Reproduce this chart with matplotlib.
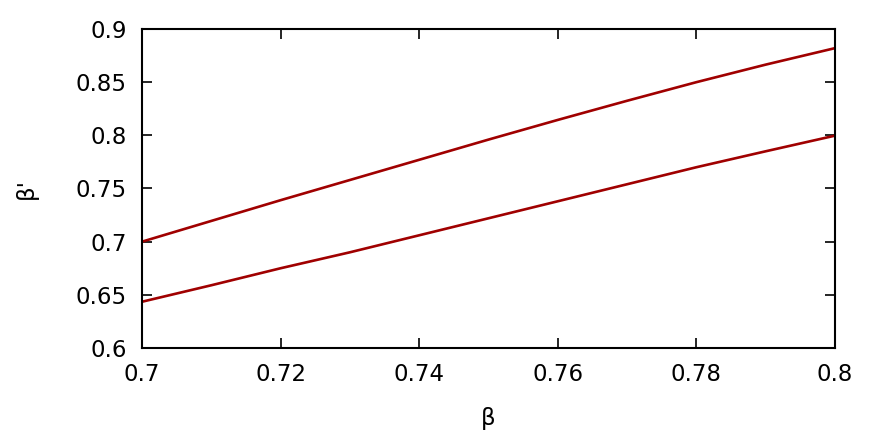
import matplotlib
matplotlib.use("Agg")
import matplotlib.pyplot as plt

beta = [0.70, 0.71, 0.72, 0.73, 0.74, 0.75, 0.76, 0.77, 0.78, 0.79, 0.80]
upper = [0.700, 0.7195, 0.739, 0.758, 0.777, 0.796, 0.8145, 0.8325, 0.850, 0.8665, 0.882]
lower = [0.6435, 0.659, 0.675, 0.690, 0.706, 0.722, 0.738, 0.754, 0.770, 0.785, 0.7997]

xticks = [0.7, 0.72, 0.74, 0.76, 0.78, 0.8]
xticklabels = ["0.7", "0.72", "0.74", "0.76", "0.78", "0.8"]
yticks = [0.6, 0.65, 0.7, 0.75, 0.8, 0.85, 0.9]
yticklabels = ["0.6", "0.65", "0.7", "0.75", "0.8", "0.85", "0.9"]

plt.rcParams['font.family'] = ['DejaVu Sans']
fig = plt.figure(figsize=(8.8, 4.4), dpi=100)
ax = fig.add_axes([142/880, 1 - 348/440, (835-142)/880, (348-29)/440])

color = "#a00000"
ax.plot(beta, upper, color=color, lw=1.9)
ax.plot(beta, lower, color=color, lw=1.9)

ax.set_xlim(0.7, 0.8)
ax.set_ylim(0.6, 0.9)
ax.set_xticks(xticks)
ax.set_xticklabels(xticklabels)
ax.set_yticks(yticks)
ax.set_yticklabels(yticklabels)
ax.tick_params(direction='in', length=7.5, width=1.2, top=True, right=True,
               labelsize=16.5, colors='black')
ax.tick_params(axis='x', pad=11)
ax.tick_params(axis='y', pad=11)
for s in ax.spines.values():
    s.set_linewidth(1.5)

ax.set_xlabel("β", fontsize=16.5, labelpad=15)
ax.set_ylabel("β'", fontsize=16.5, labelpad=27)

fig.savefig("out.png", dpi=100)
